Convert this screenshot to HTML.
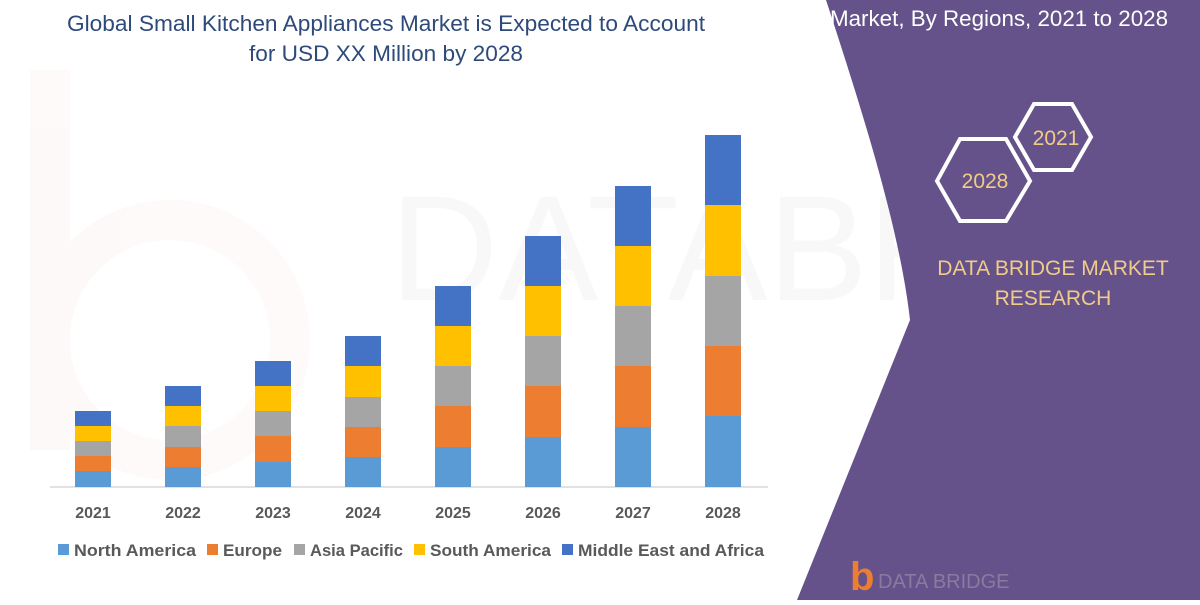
<!DOCTYPE html>
<html><head><meta charset="utf-8"><style>
html,body{margin:0;padding:0;}
body{width:1200px;height:600px;overflow:hidden;background:#fff;font-family:"Liberation Sans",sans-serif;}
</style></head><body>
<svg width="1200" height="600" viewBox="0 0 1200 600" xmlns="http://www.w3.org/2000/svg">
<rect width="1200" height="600" fill="#fff"/>
<g opacity="0.03" fill="#e0603a"><rect x="30" y="70" width="40" height="380"/><circle cx="170" cy="340" r="120" fill="none" stroke="#e0603a" stroke-width="40"/></g>
<g opacity="0.035" fill="#555" font-size="150" font-family="Liberation Sans"><text x="390" y="300">DATABRIDGE</text></g>
<path d="M826,0 C862,110 900,230 910,320 L797,600 L1200,600 L1200,0 Z" fill="#65528a"/>
<text x="1168" y="26" fill="#fff" font-size="22.5" text-anchor="end" textLength="338" lengthAdjust="spacingAndGlyphs">Market, By Regions, 2021 to 2028</text>
<polygon points="1034,104 1072,104 1091,137 1072,170 1034,170 1015,137" fill="none" stroke="#fff" stroke-width="4"/>
<text x="1056" y="145" fill="#f1cc88" font-size="21" text-anchor="middle">2021</text>
<polygon points="960,139 1006,139 1030,181 1006,221 960,221 937,181" fill="none" stroke="#fff" stroke-width="4"/>
<text x="985" y="188" fill="#f1cc88" font-size="21" text-anchor="middle">2028</text>
<text x="1053" y="275" fill="#f1cc88" font-size="21" text-anchor="middle">DATA BRIDGE MARKET</text>
<text x="1053" y="305" fill="#f1cc88" font-size="21" text-anchor="middle">RESEARCH</text>
<text x="850" y="590" fill="#ed7d31" font-size="40" font-weight="bold">b</text>
<text x="878" y="588" fill="#8a7aa0" font-size="20">DATA BRIDGE</text>
<text x="386" y="31" fill="#2e4a7a" font-size="22" text-anchor="middle" textLength="638" lengthAdjust="spacingAndGlyphs">Global Small Kitchen Appliances Market is Expected to Account</text>
<text x="386" y="61" fill="#2e4a7a" font-size="22" text-anchor="middle" textLength="274" lengthAdjust="spacingAndGlyphs">for USD XX Million by 2028</text>
<line x1="50" y1="487" x2="768" y2="487" stroke="#d9d9d9" stroke-width="1.5"/>
<g font-size="16" font-weight="bold" fill="#595959" text-anchor="middle">
<text x="93" y="518">2021</text><text x="183" y="518">2022</text><text x="273" y="518">2023</text><text x="363" y="518">2024</text><text x="453" y="518">2025</text><text x="543" y="518">2026</text><text x="633" y="518">2027</text><text x="723" y="518">2028</text>
</g>
<g font-size="17" font-weight="bold" fill="#595959">
<rect x="58" y="544" width="11" height="11" fill="#5b9bd5"/><text x="74" y="556" textLength="122" lengthAdjust="spacingAndGlyphs">North America</text>
<rect x="207" y="544" width="11" height="11" fill="#ed7d31"/><text x="223" y="556" textLength="59" lengthAdjust="spacingAndGlyphs">Europe</text>
<rect x="294" y="544" width="11" height="11" fill="#a5a5a5"/><text x="310" y="556" textLength="93" lengthAdjust="spacingAndGlyphs">Asia Pacific</text>
<rect x="414" y="544" width="11" height="11" fill="#ffc000"/><text x="430" y="556" textLength="121" lengthAdjust="spacingAndGlyphs">South America</text>
<rect x="562" y="544" width="11" height="11" fill="#4472c4"/><text x="578" y="556" textLength="186" lengthAdjust="spacingAndGlyphs">Middle East and Africa</text>
</g>
<g>
<rect x="75" y="471" width="36" height="16" fill="#5b9bd5"/><rect x="75" y="456" width="36" height="15" fill="#ed7d31"/><rect x="75" y="441" width="36" height="15" fill="#a5a5a5"/><rect x="75" y="426" width="36" height="15" fill="#ffc000"/><rect x="75" y="411" width="36" height="15" fill="#4472c4"/>
<rect x="165" y="467" width="36" height="20" fill="#5b9bd5"/><rect x="165" y="447" width="36" height="20" fill="#ed7d31"/><rect x="165" y="426" width="36" height="21" fill="#a5a5a5"/><rect x="165" y="406" width="36" height="20" fill="#ffc000"/><rect x="165" y="386" width="36" height="20" fill="#4472c4"/>
<rect x="255" y="462" width="36" height="25" fill="#5b9bd5"/><rect x="255" y="436" width="36" height="26" fill="#ed7d31"/><rect x="255" y="411" width="36" height="25" fill="#a5a5a5"/><rect x="255" y="386" width="36" height="25" fill="#ffc000"/><rect x="255" y="361" width="36" height="25" fill="#4472c4"/>
<rect x="345" y="457" width="36" height="30" fill="#5b9bd5"/><rect x="345" y="427" width="36" height="30" fill="#ed7d31"/><rect x="345" y="397" width="36" height="30" fill="#a5a5a5"/><rect x="345" y="366" width="36" height="31" fill="#ffc000"/><rect x="345" y="336" width="36" height="30" fill="#4472c4"/>
<rect x="435" y="447" width="36" height="40" fill="#5b9bd5"/><rect x="435" y="406" width="36" height="41" fill="#ed7d31"/><rect x="435" y="366" width="36" height="40" fill="#a5a5a5"/><rect x="435" y="326" width="36" height="40" fill="#ffc000"/><rect x="435" y="286" width="36" height="40" fill="#4472c4"/>
<rect x="525" y="437" width="36" height="50" fill="#5b9bd5"/><rect x="525" y="386" width="36" height="51" fill="#ed7d31"/><rect x="525" y="336" width="36" height="50" fill="#a5a5a5"/><rect x="525" y="286" width="36" height="50" fill="#ffc000"/><rect x="525" y="236" width="36" height="50" fill="#4472c4"/>
<rect x="615" y="427" width="36" height="60" fill="#5b9bd5"/><rect x="615" y="366" width="36" height="61" fill="#ed7d31"/><rect x="615" y="306" width="36" height="60" fill="#a5a5a5"/><rect x="615" y="246" width="36" height="60" fill="#ffc000"/><rect x="615" y="186" width="36" height="60" fill="#4472c4"/>
<rect x="705" y="416" width="36" height="71" fill="#5b9bd5"/><rect x="705" y="346" width="36" height="70" fill="#ed7d31"/><rect x="705" y="276" width="36" height="70" fill="#a5a5a5"/><rect x="705" y="205" width="36" height="71" fill="#ffc000"/><rect x="705" y="135" width="36" height="70" fill="#4472c4"/>
</g>
</svg>
</body></html>
